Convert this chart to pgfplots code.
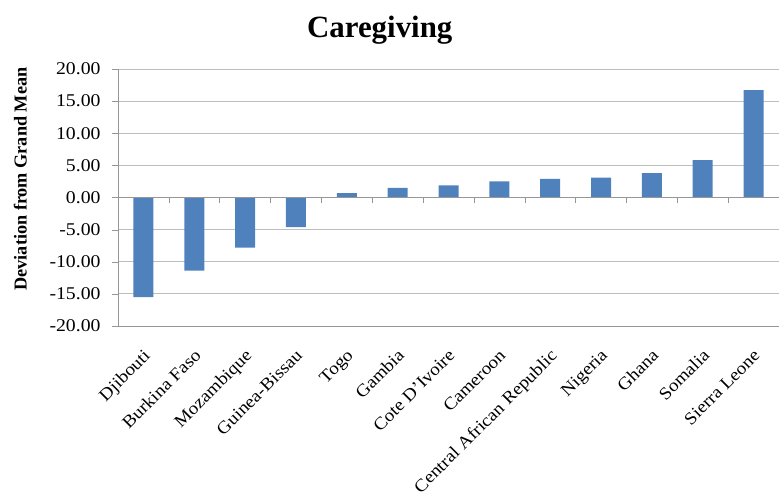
\documentclass[border=0pt]{standalone}
\usepackage{pgfplots}
\pgfplotsset{compat=1.18}
\usepackage{fontspec}
\setmainfont{Liberation Serif}[FakeStretch=1.1]
\newfontfamily\plainserif{Liberation Serif}

\definecolor{barblue}{RGB}{79,129,189}
\definecolor{gridgray}{RGB}{190,190,190}
\definecolor{axisgray}{RGB}{150,150,150}

\begin{document}
\begin{tikzpicture}
\begin{axis}[
  name=ax,
  scale only axis,
  width=661bp, height=257bp,
  xmin=-0.5, xmax=12.5,
  ymin=-20, ymax=20,
  ytick={-20,-15,...,20},
  xtick=data,
  xticklabels={Djibouti,Burkina Faso,Mozambique,Guinea-Bissau,Togo,Gambia,Cote D'Ivoire,Cameroon,Central African Republic,Nigeria,Ghana,Somalia,Sierra Leone},
  axis lines*=left,
  axis line style={axisgray},
  ymajorgrids,
  grid style={gridgray, line width=1pt},
  tick align=outside,
  major tick length=6bp,
  ytick style={axisgray},
  x tick style={draw=none},
  /pgf/number format/assume math mode=true,
  ticklabel style={font=\fontsize{18}{18}\selectfont},
  yticklabel style={xshift=-8bp, /pgf/number format/.cd, fixed, fixed zerofill, precision=2},
  xticklabel style={font=\fontsize{17.5}{17.5}\selectfont, xshift=-1bp, yshift=-16bp, rotate=45, anchor=north east, inner sep=0pt},
  ylabel={\textbf{Deviation from Grand Mean}},
  ylabel style={font=\plainserif\fontsize{18.3}{18.3}\selectfont, at={(axis description cs:-0.148,0.572)}, anchor=center},
  title={\textbf{Caregiving}},
  title style={font=\plainserif\fontsize{31}{31}\selectfont, at={(0.396,1)}, anchor=center, yshift=33bp},
  ybar, bar width=20bp,
]
\addplot[fill=barblue, draw=none] coordinates {
  (0,-15.5) (1,-11.4) (2,-7.8) (3,-4.6) (4,0.7) (5,1.5) (6,1.9)
  (7,2.5) (8,2.9) (9,3.1) (10,3.8) (11,5.8) (12,16.7)
};
\draw[axisgray, line width=1pt] (axis cs:-0.5,0) -- (axis cs:12.5,0);
\pgfplotsinvokeforeach{0,...,11}{
  \draw[axisgray] (axis cs:#1.5,0) -- (axis cs:#1.5,-0.9);
}
\end{axis}
\pgfresetboundingbox
\path ([shift={(-118bp,-174bp)}]ax.south west) rectangle ([shift={(0bp,69bp)}]ax.north east);
\end{tikzpicture}
\end{document}
